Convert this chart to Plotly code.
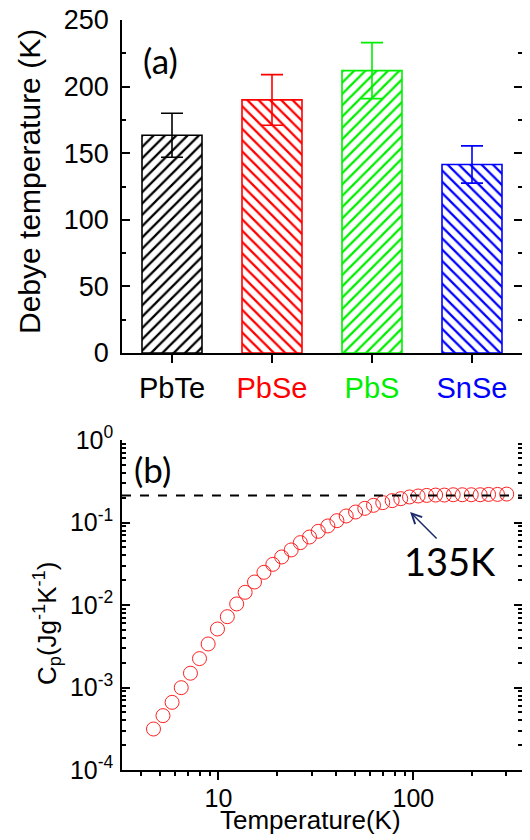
import plotly.graph_objects as go

# ---------------- data ----------------
compounds = ["PbTe", "PbSe", "PbS", "SnSe"]
debye_T = [163.5, 190.0, 212.0, 141.5]
debye_err = [16.5, 19.0, 21.0, 14.0]
bar_colors = ["#000000", "#ff0000", "#00ee00", "#0000ff"]
hatch = ["/", "\\", "/", "\\"]

temperature = [4.64, 5.19, 5.78, 6.44, 7.18, 7.99, 8.85, 9.88, 11.1, 12.4,
               13.7, 15.3, 17.1, 19.0, 21.1, 23.6, 26.3, 29.3, 32.5, 36.4,
               40.5, 45.2, 50.5, 56.3, 62.4, 69.6, 77.8, 86.1, 95.5, 105.7,
               117, 130, 144, 160, 178, 198, 220, 243, 270, 301]
cp = [3.14e-4, 4.56e-4, 6.61e-4, 9.95e-4, 1.49e-3, 2.24e-3, 3.37e-3, 5.12e-3, 7.22e-3, 0.0103,
      0.01425, 0.0190, 0.0249, 0.0311, 0.0382, 0.0465, 0.0570, 0.0667, 0.0782, 0.0908,
      0.1052, 0.120, 0.134, 0.1485, 0.1615, 0.174, 0.184, 0.1945, 0.204, 0.2096,
      0.213, 0.215, 0.215, 0.217, 0.217, 0.217, 0.217, 0.219, 0.219, 0.221]
dulong_petit = 0.213
debye_label = "135K"

y_ticks_b = [1e-4, 1e-3, 1e-2, 1e-1, 1]
y_ticktext_b = ["10<sup>-4</sup>", "10<sup>-3</sup>", "10<sup>-2</sup>", "10<sup>-1</sup>", "10<sup>0</sup>"]
x_ticks_b = [10, 100]
x_ticktext_b = ["10", "100"]

# ---------------- figure ----------------
fig = go.Figure()

for name, val, err, col, pat in zip(compounds, debye_T, debye_err, bar_colors, hatch):
    fig.add_trace(go.Bar(
        x=[name], y=[val], width=0.6, opacity=1,
        marker=dict(color="white", opacity=1, line=dict(color=col, width=1.6),
                    pattern=dict(shape=pat, fgcolor=col, bgcolor="white", fgopacity=1,
                                 size=8, solidity=0.28, fillmode="replace")),
        error_y=dict(type="data", array=[err], visible=True, color=col,
                     thickness=1.6, width=11),
        xaxis="x", yaxis="y", showlegend=False))

fig.add_trace(go.Scatter(
    x=temperature, y=cp, mode="markers",
    marker=dict(symbol="circle-open", size=14, color="#ff2020", line=dict(width=1)),
    xaxis="x2", yaxis="y2", showlegend=False))

FONT = "Liberation Sans, Arial"
tick_font_a = dict(family=FONT, size=27, color="black")
tick_font_b = dict(family=FONT, size=25, color="black")
line_kw = dict(showline=True, linecolor="black", linewidth=1.5, showgrid=False,
               zeroline=False, tickcolor="black", tickwidth=1.5, automargin=False,
               ticklabeloverflow="allow")

ticktext_a = [f"<span style='color:{c}'>{n}</span>" for n, c in zip(compounds, bar_colors)]

minor_x_b = [k for k in range(4, 10)] + [k * 10 for k in range(2, 10)] + [200, 300]
minor_y_b = [k * 10 ** e for e in range(-4, 0) for k in range(2, 10)]

# page body has an 8px margin, so the figure is 8px smaller
fig.update_layout(
    width=522, height=832,
    margin=dict(l=114, r=8, t=12, b=70),
    paper_bgcolor="white", plot_bgcolor="white",
    font=dict(family=FONT, color="black"),
    barmode="overlay",
    xaxis=dict(domain=[0, 1], anchor="y", type="category",
               categoryorder="array", categoryarray=compounds,
               range=[-0.5, 3.5], tickvals=compounds, ticktext=ticktext_a,
               ticks="outside", ticklen=8, tickfont=dict(family=FONT, size=29),
               ticklabelstandoff=0, **line_kw),
    yaxis=dict(domain=[0.556, 1], anchor="x", range=[0, 250], dtick=50,
               ticks="inside", ticklen=8, mirror="allticks",
               minor=dict(ticks="inside", ticklen=4, dtick=25, tickcolor="black", tickwidth=1.5),
               tickfont=tick_font_a, ticklabelstandoff=6, **line_kw),
    xaxis3=dict(overlaying="x", anchor="y", side="top", type="linear",
                range=[-0.5, 3.5], tickvals=[0, 1, 2, 3], showticklabels=False,
                ticks="inside", ticklen=8, **line_kw),
    xaxis2=dict(domain=[0, 1], anchor="y2", type="log", range=[0.505, 2.557],
                tickvals=x_ticks_b, ticktext=x_ticktext_b,
                ticks="outside", ticklen=8, ticklabelstandoff=-3,
                minor=dict(ticks="outside", ticklen=4, tickvals=minor_x_b, tickcolor="black", tickwidth=1.5),
                tickfont=tick_font_b, **line_kw),
    yaxis2=dict(domain=[0, 0.44], anchor="x2", type="log", range=[-4, 0],
                tickvals=y_ticks_b, ticktext=y_ticktext_b,
                ticks="inside", ticklen=8, mirror="allticks",
                minor=dict(ticks="inside", ticklen=4, tickvals=minor_y_b, tickcolor="black", tickwidth=1.5),
                tickfont=tick_font_b, ticklabelstandoff=2, **line_kw),
    xaxis4=dict(overlaying="x2", anchor="y2", side="top", type="log", range=[0.505, 2.557],
                tickvals=x_ticks_b, showticklabels=False, ticks="inside", ticklen=8,
                minor=dict(ticks="inside", ticklen=4, tickvals=minor_x_b, tickcolor="black", tickwidth=1.5),
                **line_kw),
)

fig.add_shape(type="line", xref="x2 domain", x0=0, x1=1, yref="y2",
              y0=dulong_petit, y1=dulong_petit,
              line=dict(color="black", width=2, dash="dash"))

# titles placed in paper coordinates; page coords of plot area: x 122-522, y 20-770
def px(xp):
    return (xp - 122) / 400

def py(yp):
    return (770 - yp) / 750

fig.add_annotation(text="Debye temperature (K)", xref="paper", yref="paper",
                   x=px(30), y=py(182), textangle=-90,
                   xanchor="center", yanchor="middle", showarrow=False,
                   font=dict(family=FONT, size=30, color="black"))
fig.add_annotation(text="C<sub>p</sub>(Jg<sup>-1</sup>K<sup>-1</sup>)", xref="paper", yref="paper",
                   x=px(47), y=py(624), textangle=-90,
                   xanchor="center", yanchor="middle", showarrow=False,
                   font=dict(family=FONT, size=26, color="black"))
fig.add_annotation(text="Temperature(K)", xref="paper", yref="paper",
                   x=px(310), y=py(820),
                   xanchor="center", yanchor="middle", showarrow=False,
                   font=dict(family=FONT, size=26, color="black"))

fig.add_annotation(text="(a)", xref="paper", yref="paper", x=px(160), y=py(60),
                   xanchor="center", yanchor="middle", showarrow=False,
                   font=dict(family="Lato", size=35, color="black"))
fig.add_annotation(text="(b)", xref="paper", yref="paper", x=px(152), y=py(469),
                   xanchor="center", yanchor="middle", showarrow=False,
                   font=dict(family="Lato", size=35, color="black"))
fig.add_annotation(text="", xref="x2", yref="y2", x=1.983, y=-0.873,
                   ax=28, ay=28, showarrow=True, arrowhead=5, arrowsize=1.3,
                   arrowwidth=1.5, arrowcolor="#1a2a6c")
fig.add_annotation(text=debye_label, xref="x2", yref="y2", x=2.19, y=-1.47,
                   xanchor="center", yanchor="middle", showarrow=False,
                   font=dict(family="Lato", size=38, color="black"))

fig.write_html("out.html")
